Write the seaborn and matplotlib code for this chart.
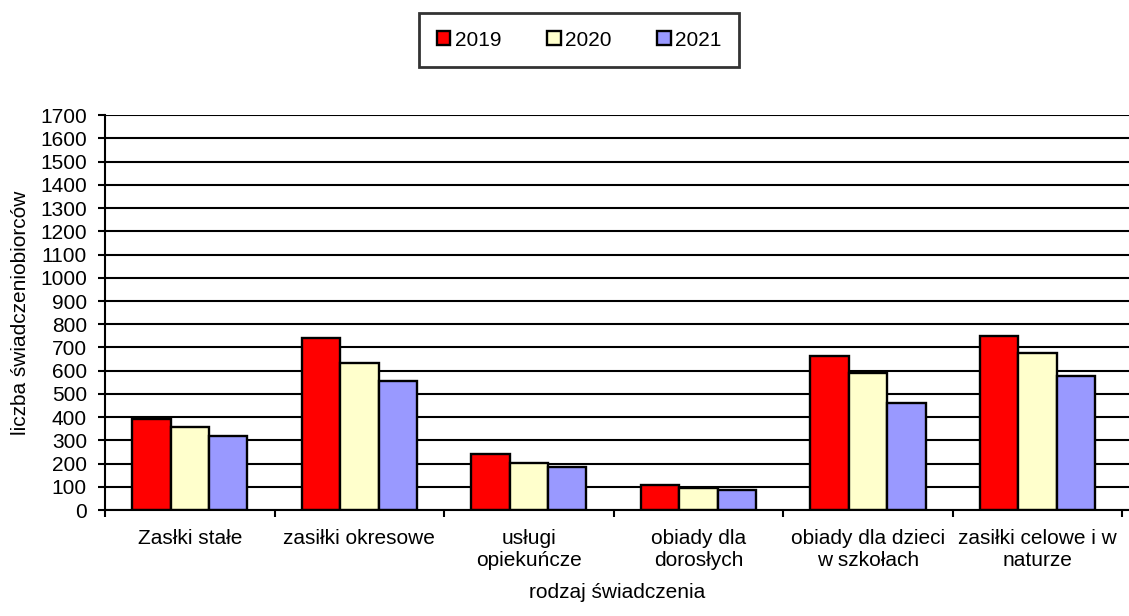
import matplotlib
matplotlib.use("Agg")
import matplotlib.pyplot as plt
import seaborn as sns
import pandas as pd
import numpy as np


categories = [
    "Zasłki stałe",
    "zasiłki okresowe",
    "usługi\nopiekuńcze",
    "obiady dla\ndorosłych",
    "obiady dla dzieci\nw szkołach",
    "zasiłki celowe i w\nnaturze",
]
years = ["2019", "2020", "2021"]
values_2019 = [391, 739, 243, 106, 664, 750]
values_2020 = [359, 635, 201, 96, 592, 674]
values_2021 = [319, 555, 185, 85, 463, 578]
colors = ["#FF0000", "#FFFFCC", "#9999FF"]


def main():

    sns.set_style("white")
    plt.rcParams["font.family"] = ["Liberation Sans", "DejaVu Sans"]
    plt.rcParams["text.color"] = "black"
    plt.rcParams["axes.labelcolor"] = "black"
    plt.rcParams["xtick.color"] = "black"
    plt.rcParams["ytick.color"] = "black"

    fs = 15

    df = build_frame()

    fig = plt.figure(figsize=(11.29, 6.16), dpi=100)
    ax = fig.add_axes([0.093, 0.172, 0.907, 0.641])
    ax.set_axisbelow(True)

    sns.barplot(data=df, x="category", y="value", hue="year", palette=colors,
                saturation=1, width=0.68, edgecolor="black", linewidth=1.7,
                ax=ax, legend=True)

    ax.set_ylim(0, 1700)
    ax.set_yticks(np.arange(0, 1701, 100))
    ax.set_xlim(-0.5, 5.54)
    ax.yaxis.grid(True, color="black", linewidth=1.5)
    ax.xaxis.grid(False)

    for side in ["top", "right"]:
        ax.spines[side].set_visible(False)
    for side in ["left", "bottom"]:
        ax.spines[side].set_color("black")
        ax.spines[side].set_linewidth(1.5)

    ax.set_xticks(np.arange(len(categories)))
    ax.set_xticklabels(categories)
    ax.set_xticks(np.arange(-0.5, len(categories), 1.0), minor=True)
    ax.tick_params(axis="x", which="major", length=0, pad=14, labelsize=fs)
    ax.tick_params(axis="x", which="minor", length=5, width=1.5, color="black",
                   direction="out", bottom=True)
    ax.tick_params(axis="y", length=5, width=1.5, color="black", direction="out",
                   left=True, pad=8, labelsize=fs)

    ax.set_xlabel("rodzaj świadczenia", fontsize=fs, labelpad=9)
    ax.set_ylabel("liczba świadczeniobiorców", fontsize=fs, labelpad=7)

    handles, labels = ax.get_legend_handles_labels()
    ax.get_legend().remove()
    leg = fig.legend(handles, labels, loc="center", ncol=3,
                     bbox_to_anchor=(579 / 1129, 1 - 40 / 616),
                     fontsize=fs, frameon=True, fancybox=False,
                     handlelength=0.65, handleheight=0.65, handletextpad=0.2,
                     columnspacing=2.2, borderpad=0.85, borderaxespad=0)
    leg.get_frame().set_edgecolor("black")
    leg.get_frame().set_linewidth(2.0)

    fig.savefig("out.png", dpi=100)


def build_frame():

    rows = []
    for year, vals in zip(years, [values_2019, values_2020, values_2021]):
        for cat, v in zip(categories, vals):
            rows.append({"category": cat, "year": year, "value": v})

    return pd.DataFrame(rows)


if __name__ == "__main__":
    main()
